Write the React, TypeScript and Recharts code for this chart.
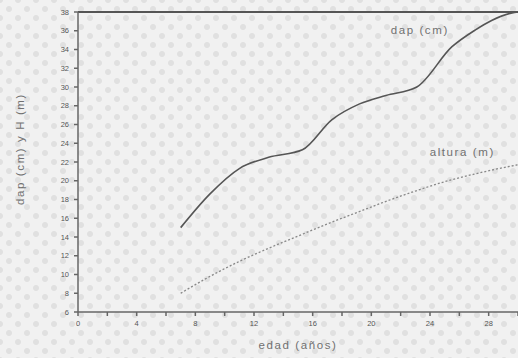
import React from "react";
import { LineChart, Line, XAxis, YAxis, ReferenceLine, ReferenceDot, Label } from "recharts";

// dap (cm)
const dapEdad = [7, 9, 11, 13, 15.3, 17.3, 19.2, 21, 23.1, 25.5, 27.1, 28.2, 29.6, 30];
const dapValores = [15, 18.6, 21.3, 22.5, 23.3, 26.5, 28.2, 29.1, 30, 34.3, 36.1, 37.1, 37.9, 38];

// altura (m)
const alturaEdad = [7, 9, 11, 13, 15, 17, 19, 21, 23, 25, 27, 29, 30];
const alturaValores = [8.0, 9.8, 11.4, 12.8, 14.1, 15.4, 16.6, 17.8, 18.9, 19.9, 20.7, 21.4, 21.7];

const xTicks = [0, 2, 4, 6, 8, 10, 12, 14, 16, 18, 20, 22, 24, 26, 28, 30];
const yTicks = [6, 8, 10, 12, 14, 16, 18, 20, 22, 24, 26, 28, 30, 32, 34, 36, 38];

// posiciones de las etiquetas (coordenadas de datos)
const etiquetaDap = { x: 23.3, y: 36.1, texto: "dap (cm)" };
const etiquetaAltura = { x: 26.2, y: 23.1, texto: "altura (m)" };

const dapData = dapEdad.map((e, i) => ({ edad: e, valor: dapValores[i] }));
const alturaData = alturaEdad.map((e, i) => ({ edad: e, valor: alturaValores[i] }));

const fuente = "'Liberation Sans', Arial, sans-serif";
const colorTexto = "#707070";
const estiloTexto = { fontSize: 11.5, fill: colorTexto, fontFamily: fuente, letterSpacing: 1.6 };

const EtiquetaY = (props: any) => {
    const vb = props.viewBox || { x: 0, y: 12, width: 78, height: 300 };
    const x = vb.x + (vb.width ?? 78) - 58;
    const y = vb.y + vb.height / 2 - 13;
    return (
        <text
            x={x}
            y={y}
            transform={`rotate(-90 ${x} ${y})`}
            textAnchor="middle"
            dominantBaseline="central"
            fill={colorTexto}
            style={estiloTexto}
        >
            dap (cm) y H (m)
        </text>
    );
};

export default function App() {
    return (
        <div
            style={{
                position: "absolute",
                left: 0,
                top: 0,
                width: 518,
                height: 358,
                backgroundColor: "#f1f1f1",
                backgroundImage:
                    "radial-gradient(circle, #e0e0e0 2.5px, transparent 3.5px), radial-gradient(circle, #e0e0e0 2.5px, transparent 3.5px)",
                backgroundSize: "18px 18px, 18px 18px",
                backgroundPosition: "0 0, 9px 9px",
                fontFamily: fuente,
            }}
        >
            <LineChart
                width={518}
                height={358}
                margin={{ top: 12, right: 0, left: 0, bottom: 0 }}
            >
                <XAxis
                    type="number"
                    dataKey="edad"
                    domain={[0, 30]}
                    ticks={xTicks}
                    interval={0}
                    tickFormatter={(v: number) => (v % 4 === 0 && v < 30 ? String(v) : "")}
                    tickSize={4}
                    tickMargin={5}
                    height={46}
                    stroke="#666"
                    strokeWidth={1.5}
                    tick={{ fontSize: 7.5, fill: "#555", fontFamily: fuente }}
                    allowDataOverflow
                >
                    <Label
                        value="edad (años)"
                        position="insideBottom"
                        offset={9}
                        fill={colorTexto}
                        style={estiloTexto}
                    />
                </XAxis>
                <YAxis
                    type="number"
                    domain={[6, 38]}
                    ticks={yTicks}
                    interval={0}
                    width={78}
                    tickSize={4}
                    tickMargin={5}
                    stroke="#666"
                    strokeWidth={1.5}
                    tick={{ fontSize: 7.5, fill: "#555", fontFamily: fuente }}
                    allowDataOverflow
                >
                    <Label content={<EtiquetaY />} />
                </YAxis>
                <ReferenceLine y={38} stroke="#555" strokeWidth={2} />
                <Line
                    data={dapData}
                    dataKey="valor"
                    type="monotone"
                    stroke="#555"
                    strokeWidth={1.6}
                    dot={false}
                    isAnimationActive={false}
                />
                <Line
                    data={alturaData}
                    dataKey="valor"
                    type="monotone"
                    stroke="#888"
                    strokeWidth={1.3}
                    strokeDasharray="2 2"
                    dot={false}
                    isAnimationActive={false}
                />
                <ReferenceDot
                    x={etiquetaDap.x}
                    y={etiquetaDap.y}
                    r={0}
                    label={{ value: etiquetaDap.texto, position: "center", ...estiloTexto }}
                />
                <ReferenceDot
                    x={etiquetaAltura.x}
                    y={etiquetaAltura.y}
                    r={0}
                    label={{ value: etiquetaAltura.texto, position: "center", ...estiloTexto }}
                />
            </LineChart>
        </div>
    );
}
